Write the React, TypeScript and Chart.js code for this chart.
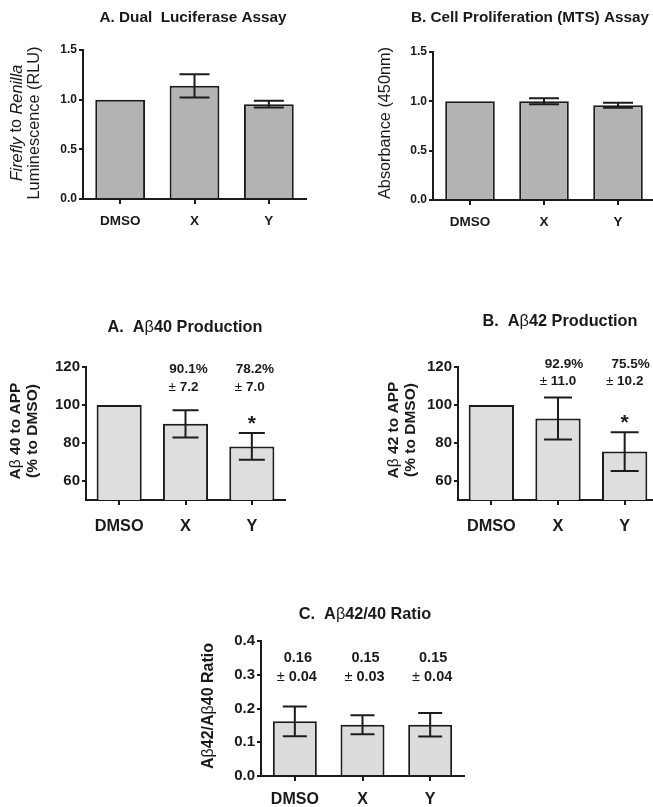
import React, { useEffect, useRef } from 'react';
import { Chart, registerables } from 'chart.js';

Chart.register(...registerables);

// ---------------- DATA ----------------
const categories = ['DMSO', 'X', 'Y'];

const lucMeans = [1.0, 1.14, 0.955];
const lucErrors = [0, 0.117, 0.033];
const mtsMeans = [1.0, 1.0, 0.96];
const mtsErrors = [0, 0.03, 0.025];

const ab40Means = [100, 90.1, 78.2];
const ab40Errors = [0, 7.2, 7.0];
const ab42Means = [100, 92.9, 75.5];
const ab42Errors = [0, 11.0, 10.2];

const ratioMeans = [0.162, 0.152, 0.152];
const ratioErrors = [0.044, 0.028, 0.035];

const ab40Notes: (string[] | null)[] = [null, ['90.1%', '7.2'], ['78.2%', '7.0']];
const ab42Notes: (string[] | null)[] = [null, ['92.9%', '11.0'], ['75.5%', '10.2']];
const ratioNotes: (string[] | null)[] = [['0.16', '0.04'], ['0.15', '0.03'], ['0.15', '0.04']];

const ab40Stars = [false, false, true];
const ab42Stars = [false, false, true];

const unitTicks = [0, 0.5, 1.0, 1.5];
const pctTicks = [60, 80, 100, 120];
const ratioTicks = [0, 0.1, 0.2, 0.3, 0.4];

// ---------------- STYLE ----------------
const FAMILY = '"Liberation Sans", Arial, Helvetica, sans-serif';
const LINE = '#1c1c1c';
const TEXT = '#1a1a1a';

type Run = { t: string; italic?: boolean; bold?: boolean };

interface PanelSpec {
  box: [number, number, number, number]; // left, top, width, height (page px)
  area: [number, number, number, number]; // l, t, r, b (page px)
  title: Run[];
  titleAt: [number, number];
  titleSize: number;
  yTitle: Run[][];
  yTitleX: number[];
  yTitleY: number;
  yTitleSize: number;
  means: number[];
  errors: number[];
  yMin: number;
  yTicks: number[];
  decimals: number;
  fill: string;
  tickSize: number;
  catSize: number;
  xPad: number;
  barPct: number;
  capW: number;
  notes?: (string[] | null)[];
  noteDx?: [number, number];
  noteY?: [number, number];
  noteSize?: number;
  stars?: boolean[];
}

function fontOf(r: Run, size: number) {
  return `${r.italic ? 'italic ' : ''}${r.bold ? 'bold ' : ''}${size}px ${FAMILY}`;
}

function drawRuns(ctx: CanvasRenderingContext2D, runs: Run[], size: number, cx: number, cy: number) {
  let total = 0;
  const widths = runs.map((r) => {
    ctx.font = fontOf(r, size);
    const w = ctx.measureText(r.t).width;
    total += w;
    return w;
  });
  let x = cx - total / 2;
  ctx.textAlign = 'left';
  ctx.textBaseline = 'middle';
  ctx.fillStyle = TEXT;
  runs.forEach((r, i) => {
    ctx.font = fontOf(r, size);
    ctx.fillText(r.t, x, cy);
    x += widths[i];
  });
}

const panels: PanelSpec[] = [
  {
    box: [0, 0, 326, 250],
    area: [83, 50, 306, 199],
    title: [{ t: 'A. Dual  Luciferase Assay', bold: true }],
    titleAt: [193, 18],
    titleSize: 15.3,
    yTitle: [
      [{ t: 'Firefly', italic: true }, { t: ' to ' }, { t: 'Renilla', italic: true }],
      [{ t: 'Luminescence (RLU)' }],
    ],
    yTitleX: [17, 35],
    yTitleY: 123,
    yTitleSize: 16.3,
    means: lucMeans,
    errors: lucErrors,
    yMin: 0,
    yTicks: unitTicks,
    decimals: 1,
    fill: '#b3b3b3',
    tickSize: 12,
    catSize: 13.5,
    xPad: 9,
    barPct: 0.67,
    capW: 30,
  },
  {
    box: [326, 0, 330, 250],
    area: [433, 52, 655, 200],
    title: [{ t: 'B. Cell Proliferation (MTS) Assay', bold: true }],
    titleAt: [530, 18],
    titleSize: 15.3,
    yTitle: [[{ t: 'Absorbance (450nm)' }]],
    yTitleX: [386],
    yTitleY: 123,
    yTitleSize: 16.3,
    means: mtsMeans,
    errors: mtsErrors,
    yMin: 0,
    yTicks: unitTicks,
    decimals: 1,
    fill: '#b3b3b3',
    tickSize: 12,
    catSize: 13.5,
    xPad: 9,
    barPct: 0.67,
    capW: 30,
  },
  {
    box: [0, 290, 326, 265],
    area: [86, 367, 285, 500],
    title: [{ t: 'A.  A', bold: true }, { t: 'β' }, { t: '40 Production', bold: true }],
    titleAt: [185, 328],
    titleSize: 16.3,
    yTitle: [
      [{ t: 'A', bold: true }, { t: 'β' }, { t: ' 40 to APP', bold: true }],
      [{ t: '(% to DMSO)', bold: true }],
    ],
    yTitleX: [16, 33],
    yTitleY: 431,
    yTitleSize: 15.5,
    means: ab40Means,
    errors: ab40Errors,
    yMin: 50,
    yTicks: pctTicks,
    decimals: 0,
    fill: '#dedede',
    tickSize: 15,
    catSize: 16.3,
    xPad: 12,
    barPct: 0.68,
    capW: 26,
    notes: ab40Notes,
    noteDx: [3, -2],
    noteY: [369, 387],
    noteSize: 13.5,
    stars: ab40Stars,
  },
  {
    box: [326, 290, 334, 265],
    area: [458, 367, 658, 500],
    title: [{ t: 'B.  A', bold: true }, { t: 'β' }, { t: '42 Production', bold: true }],
    titleAt: [560, 322],
    titleSize: 16.3,
    yTitle: [
      [{ t: 'A', bold: true }, { t: 'β' }, { t: ' 42 to APP', bold: true }],
      [{ t: '(% to DMSO)', bold: true }],
    ],
    yTitleX: [394, 411],
    yTitleY: 430,
    yTitleSize: 15.5,
    means: ab42Means,
    errors: ab42Errors,
    yMin: 50,
    yTicks: pctTicks,
    decimals: 0,
    fill: '#dedede',
    tickSize: 15,
    catSize: 16.3,
    xPad: 12,
    barPct: 0.68,
    capW: 28,
    notes: ab42Notes,
    noteDx: [6, 0],
    noteY: [364, 381],
    noteSize: 13.5,
    stars: ab42Stars,
  },
  {
    box: [170, 560, 320, 247],
    area: [261, 641, 464, 776],
    title: [{ t: 'C.  A', bold: true }, { t: 'β' }, { t: '42/40 Ratio', bold: true }],
    titleAt: [365, 615],
    titleSize: 16.3,
    yTitle: [
      [
        { t: 'A', bold: true },
        { t: 'β' },
        { t: '42/A', bold: true },
        { t: 'β' },
        { t: '40 Ratio', bold: true },
      ],
    ],
    yTitleX: [209],
    yTitleY: 706,
    yTitleSize: 16,
    means: ratioMeans,
    errors: ratioErrors,
    yMin: 0,
    yTicks: ratioTicks,
    decimals: 1,
    fill: '#dcdcdc',
    tickSize: 15,
    catSize: 16,
    xPad: 9,
    barPct: 0.65,
    capW: 24,
    notes: ratioNotes,
    noteDx: [3, 2],
    noteY: [658, 677],
    noteSize: 14.5,
  },
];

function Panel({ spec }: { spec: PanelSpec }) {
  const ref = useRef<HTMLCanvasElement | null>(null);
  useEffect(() => {
    const canvas = ref.current;
    if (!canvas) return;
    const [bl, bt, bw, bh] = spec.box;
    const [al, at, ar, ab] = spec.area;
    const xh = bt + bh - ab;

    const decor = {
      id: 'decor',
      afterDraw(chart: any) {
        const ctx: CanvasRenderingContext2D = chart.ctx;
        const xs = chart.scales.x;
        const ys = chart.scales.y;
        ctx.save();
        // error bars
        ctx.strokeStyle = LINE;
        ctx.lineWidth = 2;
        ctx.lineCap = 'butt';
        spec.means.forEach((m, i) => {
          const e = spec.errors[i];
          if (!e) return;
          const x = xs.getPixelForValue(i);
          const yt = ys.getPixelForValue(m + e);
          const yb = ys.getPixelForValue(m - e);
          ctx.beginPath();
          ctx.moveTo(x, yt);
          ctx.lineTo(x, yb);
          ctx.moveTo(x - spec.capW / 2, yt);
          ctx.lineTo(x + spec.capW / 2, yt);
          ctx.moveTo(x - spec.capW / 2, yb);
          ctx.lineTo(x + spec.capW / 2, yb);
          ctx.stroke();
        });
        // notes
        if (spec.notes && spec.noteY && spec.noteDx) {
          spec.notes.forEach((n, i) => {
            if (!n) return;
            const x = xs.getPixelForValue(i);
            drawRuns(ctx, [{ t: n[0], bold: true }], spec.noteSize!, x + spec.noteDx![0], spec.noteY![0] - bt);
            drawRuns(
              ctx,
              [{ t: '±' }, { t: ' ' + n[1], bold: true }],
              spec.noteSize!,
              x + spec.noteDx![1],
              spec.noteY![1] - bt
            );
          });
        }
        // significance stars
        if (spec.stars) {
          spec.stars.forEach((s, i) => {
            if (!s) return;
            const x = xs.getPixelForValue(i);
            const yt = ys.getPixelForValue(spec.means[i] + spec.errors[i]);
            ctx.font = `bold 21px ${FAMILY}`;
            ctx.fillStyle = TEXT;
            ctx.textAlign = 'center';
            ctx.textBaseline = 'alphabetic';
            ctx.fillText('*', x, yt - 15 + 12);
          });
        }
        // title
        drawRuns(ctx, spec.title, spec.titleSize, spec.titleAt[0] - bl, spec.titleAt[1] - bt);
        // y-axis title
        spec.yTitle.forEach((line, li) => {
          ctx.save();
          ctx.translate(spec.yTitleX[li] - bl, spec.yTitleY - bt);
          ctx.rotate(-Math.PI / 2);
          drawRuns(ctx, line, spec.yTitleSize, 0, 0);
          ctx.restore();
        });
        ctx.restore();
      },
    };

    const chart = new Chart(canvas, {
      type: 'bar',
      data: {
        labels: categories,
        datasets: [
          {
            data: spec.means,
            backgroundColor: spec.fill,
            borderColor: LINE,
            borderWidth: 2,
            barPercentage: spec.barPct,
            categoryPercentage: 1,
          },
        ],
      },
      options: {
        responsive: false,
        maintainAspectRatio: false,
        animation: false,
        devicePixelRatio: 1,
        events: [],
        layout: {
          padding: {
            left: 0,
            top: at - bt,
            right: bl + bw - ar,
            bottom: 0,
          },
        },
        plugins: {
          legend: { display: false },
          tooltip: { enabled: false },
          title: { display: false },
        },
        scales: {
          x: {
            type: 'category',
            offset: true,
            grid: {
              offset: false,
              drawOnChartArea: false,
              drawTicks: true,
              tickLength: 5,
              color: LINE,
              lineWidth: 2,
            },
            border: { display: true, color: LINE, width: 2 },
            ticks: {
              color: TEXT,
              font: { family: FAMILY, size: spec.catSize, weight: 'bold' },
              padding: spec.xPad,
              maxRotation: 0,
              autoSkip: false,
            },
            afterFit: (s: any) => {
              s.height = xh;
            },
          },
          y: {
            min: spec.yMin,
            max: spec.yTicks[spec.yTicks.length - 1],
            grid: {
              drawOnChartArea: false,
              drawTicks: true,
              tickLength: 4,
              color: LINE,
              lineWidth: 2,
            },
            border: { display: true, color: LINE, width: 2 },
            ticks: {
              color: TEXT,
              font: { family: FAMILY, size: spec.tickSize, weight: 'bold' },
              padding: 2,
              callback: (v: any) => Number(v).toFixed(spec.decimals),
            },
            afterBuildTicks: (s: any) => {
              s.ticks = spec.yTicks.map((v) => ({ value: v }));
            },
            afterFit: (s: any) => {
              s.width = al - bl;
            },
          },
        },
      } as any,
      plugins: [decor],
    });
    return () => chart.destroy();
  }, [spec]);

  const [bl, bt, bw, bh] = spec.box;
  return (
    <canvas
      ref={ref}
      width={bw}
      height={bh}
      style={{ position: 'absolute', left: bl, top: bt, width: bw, height: bh }}
    />
  );
}

export default function App() {
  return (
    <div
      style={{
        position: 'fixed',
        left: 0,
        top: 0,
        width: 653,
        height: 807,
        overflow: 'hidden',
        background: '#ffffff',
      }}
    >
      {panels.map((p, i) => (
        <Panel key={i} spec={p} />
      ))}
    </div>
  );
}
